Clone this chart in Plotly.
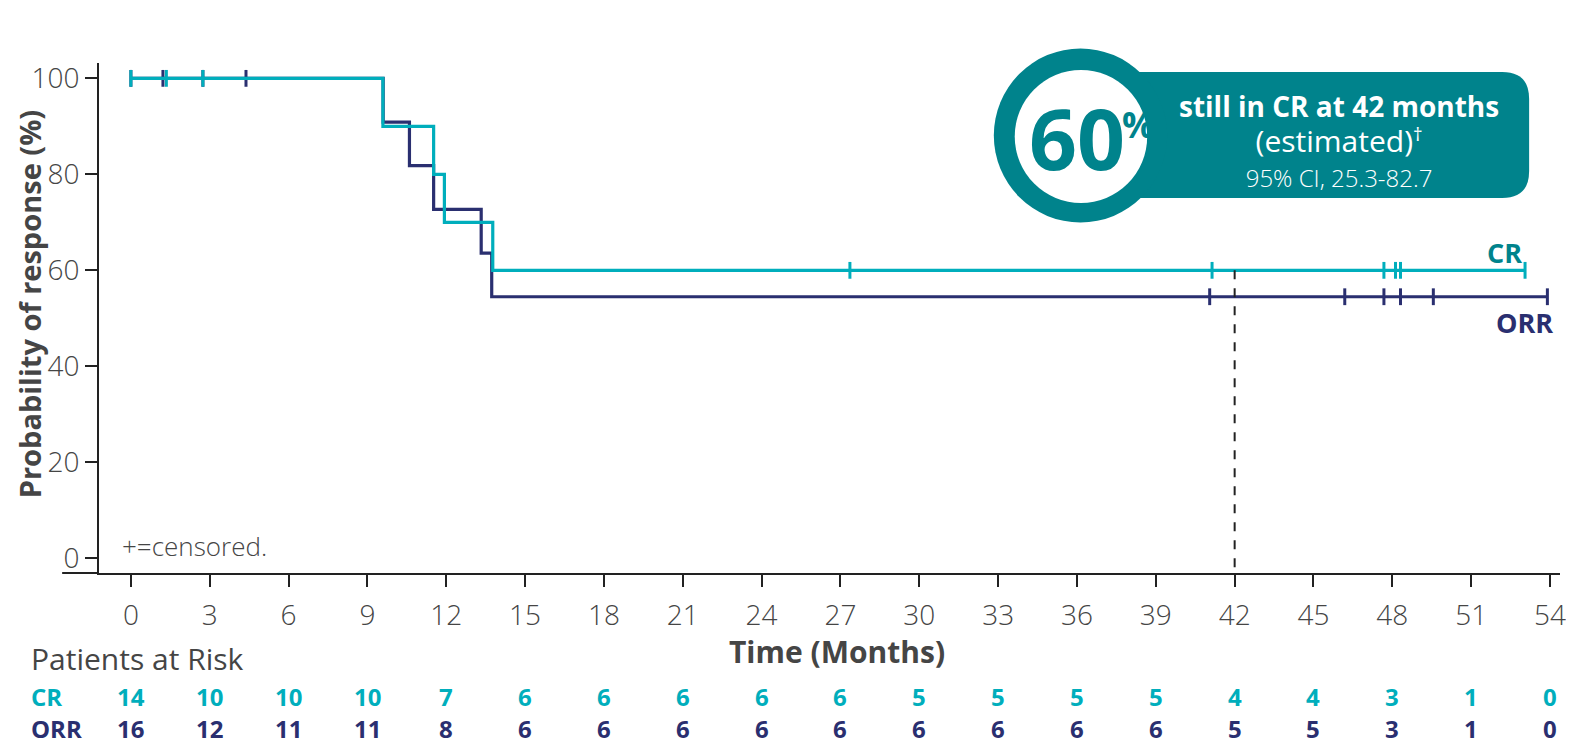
import plotly.graph_objects as go

# KM curves (months, % still responding)
cr_event_times = [9.59, 11.52, 11.93, 13.77]
cr_survival = [90.0, 80.0, 70.0, 60.0]
cr_censor_times = [0.0, 1.35, 2.74, 27.36, 41.14, 47.68, 48.12, 48.31, 53.05]
cr_last_time = 53.05

orr_event_times = [9.60, 10.60, 11.52, 13.33, 13.73]
orr_survival = [90.9, 81.8, 72.7, 63.6, 54.5]
orr_censor_times = [0.0, 1.22, 2.74, 4.38, 41.05, 46.19, 47.68, 48.31, 49.56, 53.9]
orr_last_time = 53.9

risk_times = [0, 3, 6, 9, 12, 15, 18, 21, 24, 27, 30, 33, 36, 39, 42, 45, 48, 51, 54]
cr_at_risk = [14, 10, 10, 10, 7, 6, 6, 6, 6, 6, 5, 5, 5, 5, 4, 4, 3, 1, 0]
orr_at_risk = [16, 12, 11, 11, 8, 6, 6, 6, 6, 6, 6, 6, 6, 6, 5, 5, 3, 1, 0]

y_ticks = [0, 20, 40, 60, 80, 100]
landmark_month = 42
landmark_value = 60

CR_COLOR = "#00AEBC"
ORR_COLOR = "#2A2F70"
BADGE_COLOR = "#00838C"
TEXT_COLOR = "#454545"
AXIS_COLOR = "#222222"
FONT = "Open Sans"

# the page body has an 8px margin, so the figure is a bit smaller than the window
OFF = 8
W, H = 1566, 737
L, R, T, B = 91, 8, 55, 172
PW, PH = W - L - R, H - T - B


# helpers take positions measured on the full window
def px(x):
    return (x - OFF - L) / PW


def py(y):
    return (H - B - (y - OFF)) / PH


def step_value(t, times, surv):
    v = 100.0
    for et, s in zip(times, surv):
        if t >= et:
            v = s
    return v


def curve(times, surv, last):
    xs = [0] + times + [last]
    ys = [100.0] + surv + [surv[-1]]
    return xs, ys


fig = go.Figure()

for name, times, surv, last, cens, color in [
    ("ORR", orr_event_times, orr_survival, orr_last_time, orr_censor_times, ORR_COLOR),
    ("CR", cr_event_times, cr_survival, cr_last_time, cr_censor_times, CR_COLOR),
]:
    xs, ys = curve(times, surv, last)
    fig.add_trace(go.Scatter(x=xs, y=ys, mode="lines", line=dict(color=color, width=3.2, shape="hv"),
                             name=name, showlegend=False, hoverinfo="skip"))
    fig.add_trace(go.Scatter(x=cens, y=[step_value(t, times, surv) for t in cens], mode="markers",
                             marker=dict(symbol="line-ns", size=12, line=dict(color=color, width=3)),
                             showlegend=False, hoverinfo="skip"))

# dashed landmark line at 42 months
fig.add_shape(type="line", xref="x", yref="y", x0=landmark_month, x1=landmark_month,
              y0=landmark_value, y1=-3.06, line=dict(color=AXIS_COLOR, width=2, dash="dash"))

# x axis line runs a bit past the y axis on the left
fig.add_shape(type="line", xref="paper", yref="paper", x0=px(62), x1=0, y0=0, y1=0,
              line=dict(color=AXIS_COLOR, width=2))

# badge: rounded rectangle + ring
rx0, rx1, ry0, ry1, rr = px(1085), px(1535), py(198), py(72), 27
kx, ky = rr / PW, rr / PH
path = (f"M {rx0},{ry0} L {rx1 - kx},{ry0} Q {rx1},{ry0} {rx1},{ry0 + ky} "
        f"L {rx1},{ry1 - ky} Q {rx1},{ry1} {rx1 - kx},{ry1} L {rx0},{ry1} Z")
fig.add_shape(type="path", xref="paper", yref="paper", path=path, fillcolor=BADGE_COLOR, line=dict(width=0))
fig.add_shape(type="circle", xref="paper", yref="paper", x0=px(997.5), x1=px(1171.5), y0=py(222.5), y1=py(48.5),
              fillcolor=BADGE_COLOR, line=dict(width=0))
fig.add_shape(type="circle", xref="paper", yref="paper", x0=px(1018.5), x1=px(1151.5), y0=py(203), y1=py(70),
              fillcolor="white", line=dict(width=0))

badge_text = ("<b><span style='font-size:28px'>still in CR at 42 months</span></b><br>"
              "<span style='font-size:30px'>(estimated)</span><sup>†</sup><br>"
              "<span style='font-size:24px;font-weight:300'>95% CI, 25.3-82.7</span>")

ann = []
ann.append(dict(x=px(1081), y=py(137), text="<b>60</b>", font=dict(size=84, color=BADGE_COLOR)))
ann.append(dict(x=px(1142), y=py(124), text="<b>%</b>", font=dict(size=36, color=BADGE_COLOR)))
ann.append(dict(x=px(1344), y=py(140), text=badge_text, font=dict(size=27, color="white")))

ann.append(dict(x=px(1510), y=py(252), text="<b>CR</b>", font=dict(size=27, color=BADGE_COLOR)))
ann.append(dict(x=px(1530), y=py(322), text="<b>ORR</b>", font=dict(size=27, color=ORR_COLOR)))
ann.append(dict(x=px(121), y=py(546), text="+=censored.", xanchor="left", font=dict(size=26, color=TEXT_COLOR, weight=300)))

ann.append(dict(x=px(29), y=py(304), text="<b>Probability of response (%)</b>", textangle=-90,
                font=dict(size=29, color=TEXT_COLOR)))
ann.append(dict(x=px(840), y=py(651), text="<b>Time (Months)</b>", font=dict(size=30, color=TEXT_COLOR)))
ann.append(dict(x=px(30), y=py(658), text="Patients at Risk", xanchor="left",
                font=dict(size=30, color=TEXT_COLOR, weight=500)))

# risk table
ROW_CR, ROW_ORR = 696, 728
ann.append(dict(x=px(30), y=py(ROW_CR), text="<b>CR</b>", xanchor="left", font=dict(size=24, color=CR_COLOR)))
ann.append(dict(x=px(30), y=py(ROW_ORR), text="<b>ORR</b>", xanchor="left", font=dict(size=24, color=ORR_COLOR)))
for t, c, o in zip(risk_times, cr_at_risk, orr_at_risk):
    ann.append(dict(x=t, xref="x", y=py(ROW_CR), text=f"<b>{c}</b>", font=dict(size=24, color=CR_COLOR)))
    ann.append(dict(x=t, xref="x", y=py(ROW_ORR), text=f"<b>{o}</b>", font=dict(size=24, color=ORR_COLOR)))

for a in ann:
    a.setdefault("xref", "paper")
    a["yref"] = "paper"
    a.setdefault("xanchor", "center")
    a["yanchor"] = "middle"
    a["showarrow"] = False
    a["borderpad"] = 0
    a["font"].setdefault("family", FONT)

fig.update_layout(
    width=W, height=H,
    margin=dict(l=L, r=R, t=T, b=B),
    plot_bgcolor="white", paper_bgcolor="white",
    font=dict(family=FONT, color=TEXT_COLOR),
    annotations=ann,
    showlegend=False,
)
fig.update_xaxes(range=[-1.213, 54.38], tickvals=risk_times, showline=True, linecolor=AXIS_COLOR, linewidth=2,
                 ticks="outside", ticklen=12, tickwidth=2, tickcolor=AXIS_COLOR, showgrid=False, zeroline=False,
                 tickfont=dict(size=28, color=TEXT_COLOR, weight=300), ticklabelstandoff=4)
fig.update_yaxes(range=[-3.06, 103.2], tickvals=y_ticks, showline=True, linecolor=AXIS_COLOR, linewidth=2,
                 ticks="outside", ticklen=12, tickwidth=2, tickcolor=AXIS_COLOR, showgrid=False, zeroline=False,
                 tickfont=dict(size=28, color=TEXT_COLOR, weight=300))

fig.write_html("out.html")
